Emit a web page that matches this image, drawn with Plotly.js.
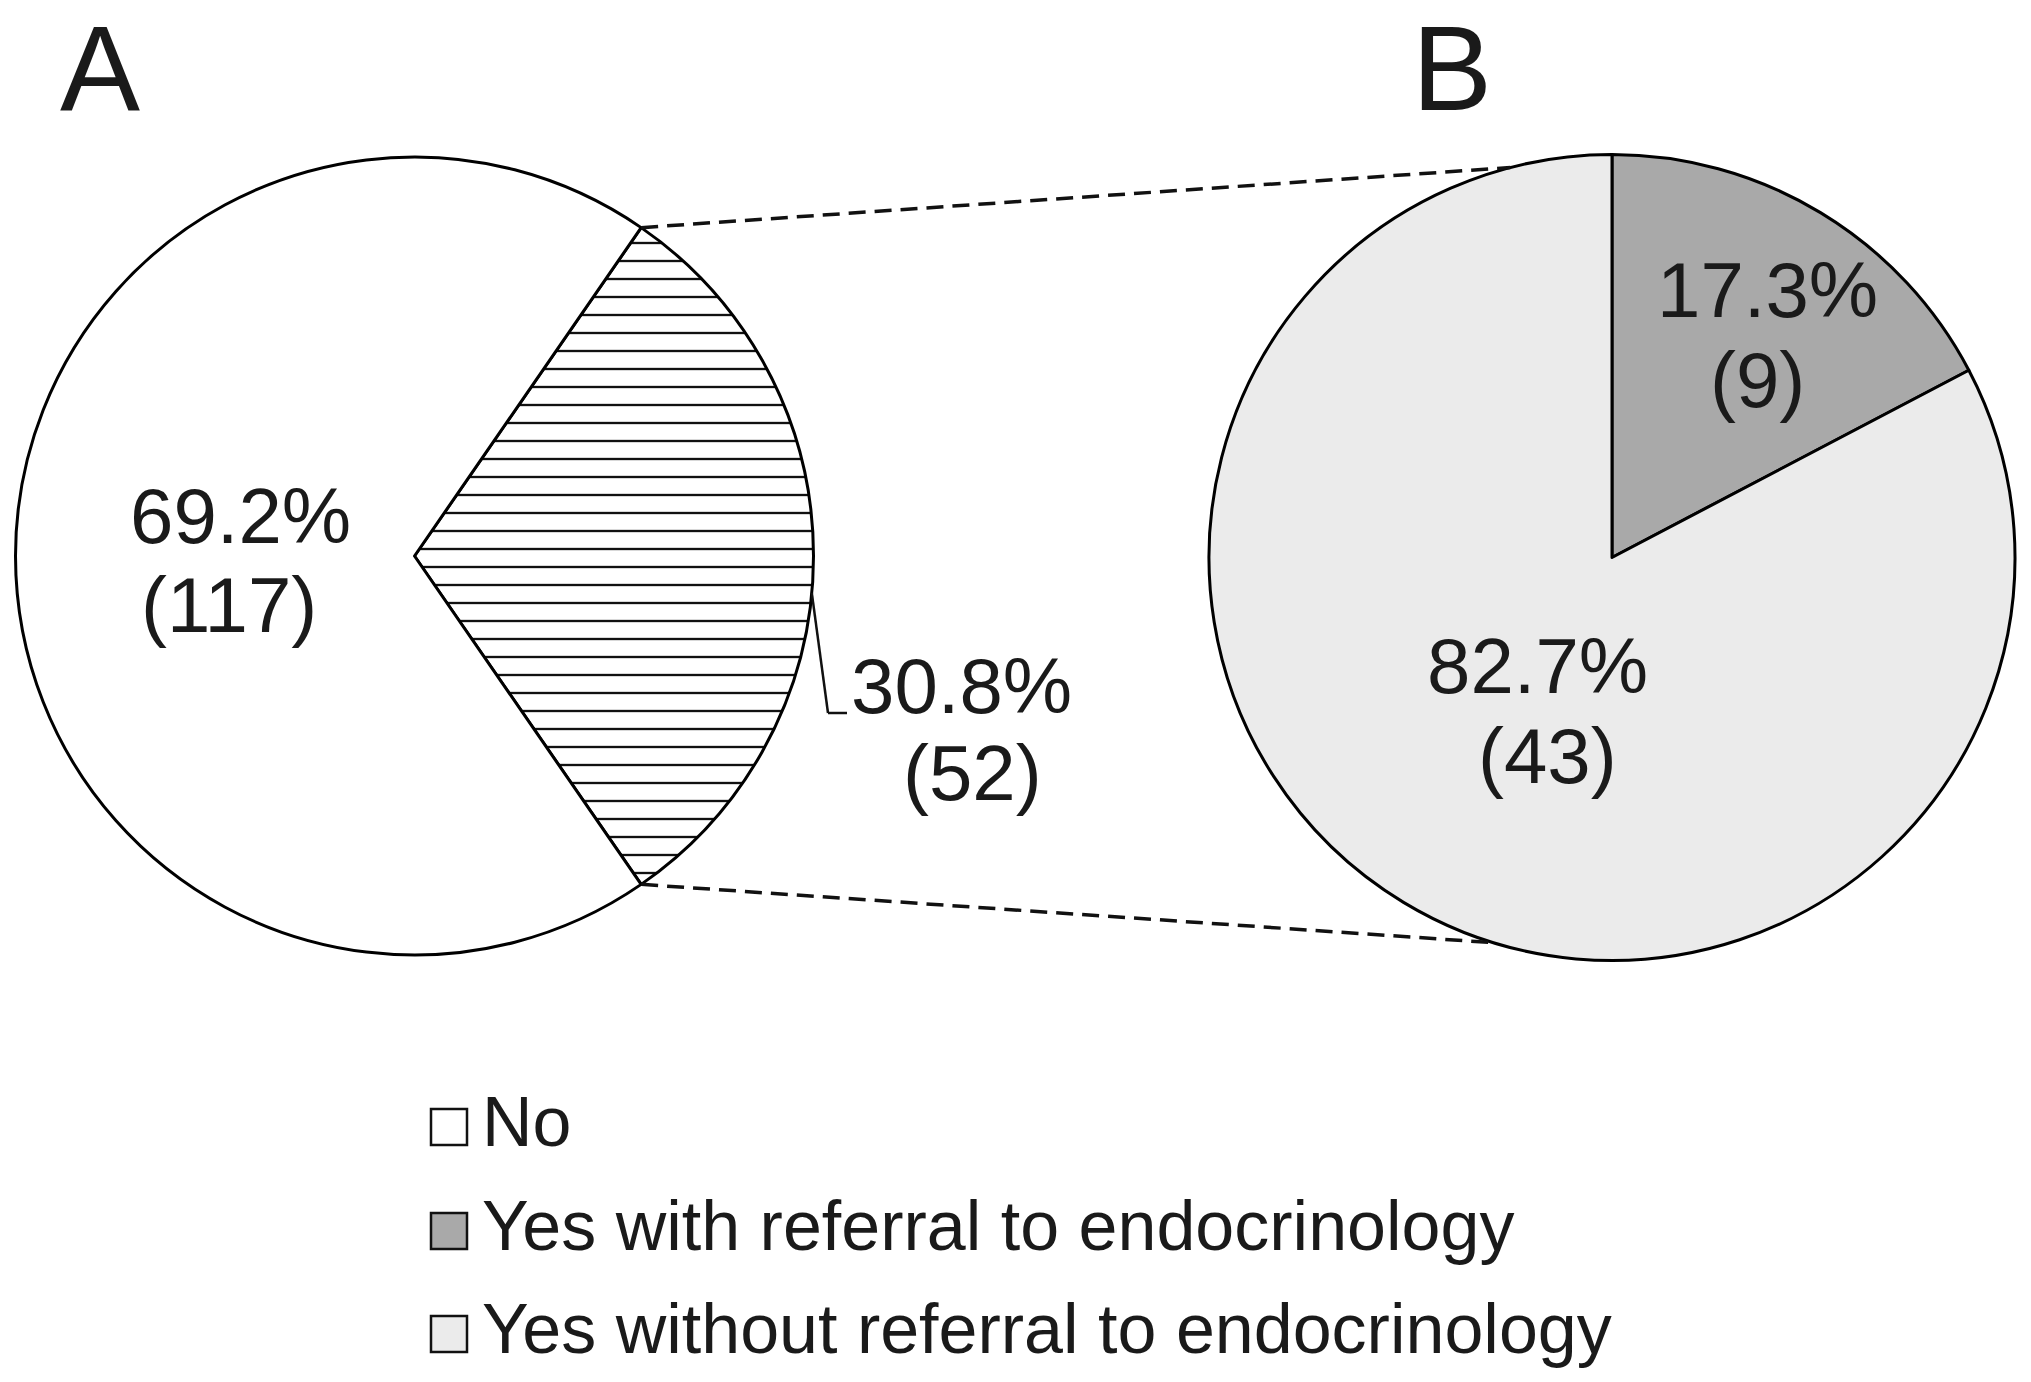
<!DOCTYPE html>
<html><head><meta charset="utf-8">
<script src="https://cdn.plot.ly/plotly-3.0.1.min.js"></script>
<style>html,body{margin:0;padding:0;background:#fff}#chart{width:2031px;height:1382px}</style>
</head><body><div id="chart"></div>
<script>
// ---------------- data ----------------
const panelALabels = ["Yes", "No"];
const panelAValues = [52, 117];
const panelBLabels = ["Yes with referral to endocrinology", "Yes without referral to endocrinology"];
const panelBValues = [9, 43];
const legendLabels = ["No", "Yes with referral to endocrinology", "Yes without referral to endocrinology"];
const panelTitles = ["A", "B"];

// ---------------- style / layout constants ----------------
const W = 2031, H = 1382;
const FONT = '"Liberation Sans", Arial, Helvetica, sans-serif';
const TXT = '#1a1a1a';
const colWhite = '#ffffff', colDark = '#a9a9a9', colLight = '#ebebeb';
const legendColors = [colWhite, colDark, colLight];
const pieA = {cx: 414.5, cy: 556, r: 399};
const pieB = {cx: 1612, cy: 557.5, r: 403};
const bTopAngle = 14.6, bBottomAngle = 17.1;   // connector ends on pie B (deg from vertical, toward left)
const leaderAngle = 5.3, leaderKnee = [828, 713], leaderEnd = [847, 713];

function px(x) { return x / W; }
function py(y) { return 1 - y / H; }
function domainOf(p) {
  return {x: [px(p.cx - p.r), px(p.cx + p.r)], y: [py(p.cy + p.r), py(p.cy - p.r)]};
}
const sum = a => a.reduce((s, v) => s + v, 0);
const totalA = sum(panelAValues), totalB = sum(panelBValues);
const pct = (v, t) => (100 * v / t).toFixed(1) + '%';
const halfA = 180 * panelAValues[0] / totalA;      // half-angle of the "Yes" wedge
const rotationA = 90 - halfA;
const rad = d => d * Math.PI / 180;

// ---------------- traces ----------------
const traceA = {
  type: 'pie', labels: panelALabels, values: panelAValues, sort: false,
  direction: 'clockwise', rotation: rotationA, domain: domainOf(pieA),
  textinfo: 'none', hoverinfo: 'label+value+percent', showlegend: false,
  marker: {
    colors: [colWhite, colWhite],
    line: {color: '#000', width: 3},
    pattern: {shape: ['-', ''], fgcolor: '#111', bgcolor: '#fff', size: 18, solidity: 0.13}
  }
};
const traceB = {
  type: 'pie', labels: panelBLabels, values: panelBValues, sort: false,
  direction: 'clockwise', rotation: 0, domain: domainOf(pieB),
  textinfo: 'none', hoverinfo: 'label+value+percent', showlegend: false,
  marker: {colors: [colDark, colLight], line: {color: '#000', width: 3}}
};

// ---------------- annotations ----------------
function lbl(text, cx, base, fs, xanchor) {
  return {xref: 'paper', yref: 'paper', x: px(cx), y: py(base - 0.3465 * fs),
    xanchor: xanchor || 'center', yanchor: 'middle', text: text, showarrow: false,
    borderpad: 0, font: {family: FONT, size: fs, color: TXT}};
}
const FS = 78;
const annotations = [
  lbl(panelTitles[0], 100, 110, 120),
  lbl(panelTitles[1], 1452, 110, 120),
  lbl(pct(panelAValues[1], totalA), 240, 543, FS),
  lbl('(' + panelAValues[1] + ')', 229, 632, FS),
  lbl(pct(panelAValues[0], totalA), 961, 713, FS),
  lbl('(' + panelAValues[0] + ')', 972, 800, FS),
  lbl(pct(panelBValues[0], totalB), 1767, 317, FS),
  lbl('(' + panelBValues[0] + ')', 1757, 407, FS),
  lbl(pct(panelBValues[1], totalB), 1537, 693, FS),
  lbl('(' + panelBValues[1] + ')', 1547, 783, FS)
];
const legendY = [1127, 1231, 1334];
legendLabels.forEach((t, i) => annotations.push(lbl(t, 481, legendY[i] + 19, 70, 'left')));

// ---------------- shapes ----------------
const shapes = [];
function seg(x0, y0, x1, y1, dash, w) {
  shapes.push({type: 'line', xref: 'paper', yref: 'paper',
    x0: px(x0), y0: py(y0), x1: px(x1), y1: py(y1),
    line: {color: '#111', width: w, dash: dash}});
}
// connectors from wedge edges of A to pie B
const aTop = [pieA.cx + pieA.r * Math.cos(rad(halfA)), pieA.cy - pieA.r * Math.sin(rad(halfA))];
const aBot = [pieA.cx + pieA.r * Math.cos(rad(halfA)), pieA.cy + pieA.r * Math.sin(rad(halfA))];
const bTop = [pieB.cx - pieB.r * Math.sin(rad(bTopAngle)), pieB.cy - pieB.r * Math.cos(rad(bTopAngle))];
const bBot = [pieB.cx - pieB.r * Math.sin(rad(bBottomAngle)), pieB.cy + pieB.r * Math.cos(rad(bBottomAngle))];
seg(aTop[0], aTop[1], bTop[0], bTop[1], '17px,9px', 3.5);
seg(aBot[0], aBot[1], bBot[0], bBot[1], '17px,9px', 3.5);
// leader line for the 30.8% label
const lStart = [pieA.cx + pieA.r * Math.cos(rad(leaderAngle)), pieA.cy + pieA.r * Math.sin(rad(leaderAngle))];
seg(lStart[0], lStart[1], leaderKnee[0], leaderKnee[1], 'solid', 2.5);
seg(leaderKnee[0], leaderKnee[1], leaderEnd[0], leaderEnd[1], 'solid', 2.5);
// legend swatches
legendY.forEach((y, i) => shapes.push({type: 'rect', xref: 'paper', yref: 'paper',
  x0: px(431), x1: px(467), y0: py(y + 18), y1: py(y - 18),
  fillcolor: legendColors[i], line: {color: '#111', width: 2.5}}));

const layout = {
  width: W, height: H, margin: {l: 0, r: 0, t: 0, b: 0},
  paper_bgcolor: '#fff', plot_bgcolor: '#fff', showlegend: false,
  font: {family: FONT, color: TXT},
  annotations: annotations, shapes: shapes
};
Plotly.newPlot('chart', [traceA, traceB], layout, {displayModeBar: false, staticPlot: true});
</script></body></html>
